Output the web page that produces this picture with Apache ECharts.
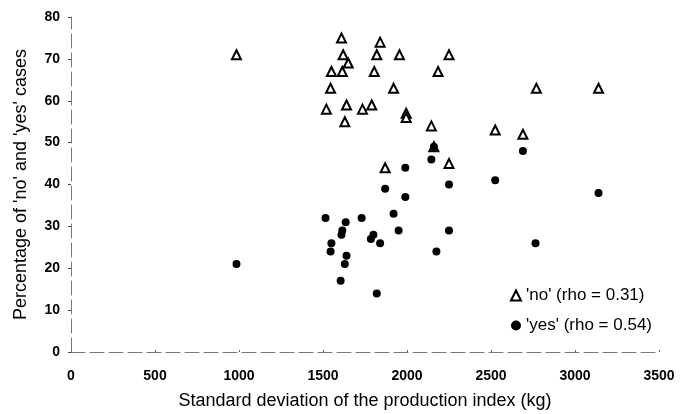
<!DOCTYPE html>
<html>
<head>
<meta charset="utf-8">
<script src="https://cdn.jsdelivr.net/npm/echarts@6/dist/echarts.min.js"></script>
<style>
  html, body { margin: 0; padding: 0; background: #fff; }
  #chart { width: 694px; height: 414px; }
</style>
</head>
<body>
<div id="chart"></div>
<script>
// 'no' cases: [sd of production index, percentage]
const noPoints = [
  [985, 71], [1520, 58], [1545, 63], [1550, 67], [1610, 75], [1615, 67],
  [1620, 71], [1630, 55], [1640, 59], [1650, 69], [1735, 58], [1790, 59],
  [1805, 67], [1820, 71], [1840, 74], [1870, 44], [1920, 63], [1955, 71],
  [1995, 57], [1995, 56], [2145, 54], [2160, 49], [2185, 67], [2250, 71],
  [2250, 45], [2525, 53], [2690, 52], [2770, 63], [3140, 63]
];
// 'yes' cases
const yesPoints = [
  [985, 21], [1515, 32], [1545, 24], [1550, 26], [1605, 17], [1610, 28],
  [1615, 29], [1630, 21], [1635, 31], [1640, 23], [1730, 32], [1785, 27],
  [1800, 28], [1820, 14], [1840, 26], [1870, 39], [1920, 33], [1950, 29],
  [1990, 44], [1990, 37], [2145, 46], [2160, 49], [2175, 24], [2250, 40],
  [2250, 29], [2525, 41], [2690, 48], [2765, 26], [3140, 38]
];
const seriesNames = ["'no' (rho = 0.31)", "'yes' (rho = 0.54)"];
const xTitle = 'Standard deviation of the production index (kg)';
const yTitle = "Percentage of 'no' and 'yes' cases";

const chart = echarts.init(document.getElementById('chart'));
const font = '"Liberation Sans", Arial, sans-serif';
const axisLine = { show: true, lineStyle: { color: '#777', width: 1, type: [14, 5] } };

chart.setOption({
  animation: false,
  backgroundColor: '#fff',
  grid: { left: 71, right: 35, top: 17, bottom: 62, outerBoundsMode: 'none', containLabel: false },
  legend: {
    orient: 'vertical',
    left: 510,
    top: 287,
    padding: 0,
    itemGap: 13,
    itemWidth: 10,
    itemHeight: 10,
    textStyle: { fontFamily: font, fontSize: 17, color: '#000' },
    data: seriesNames
  },
  xAxis: {
    type: 'value',
    min: 0, max: 3500, interval: 500,
    name: xTitle,
    nameLocation: 'middle',
    nameGap: 40,
    nameTextStyle: { fontFamily: font, fontSize: 18, color: '#000' },
    axisLine: axisLine,
    axisTick: { show: true, length: 2, inside: true, lineStyle: { color: '#666' } },
    axisLabel: { fontFamily: font, fontSize: 14, fontWeight: 'bold', color: '#000', margin: 17, formatter: v => String(v) },
    splitLine: { show: false }
  },
  yAxis: {
    type: 'value',
    min: 0, max: 80, interval: 10,
    name: yTitle,
    nameLocation: 'middle',
    nameGap: 41,
    nameTextStyle: { fontFamily: font, fontSize: 18, color: '#000' },
    axisLine: axisLine,
    axisTick: { show: true, length: 3, lineStyle: { color: '#444' } },
    axisLabel: { fontFamily: font, fontSize: 14, fontWeight: 'bold', color: '#000', margin: 11 },
    splitLine: { show: false }
  },
  series: [
    {
      name: seriesNames[0],
      type: 'scatter',
      data: noPoints,
      symbol: 'triangle',
      symbolSize: 9,
      itemStyle: { color: '#fff', borderColor: '#000', borderWidth: 2, opacity: 1 },
      z: 2
    },
    {
      name: seriesNames[1],
      type: 'scatter',
      data: yesPoints,
      symbol: 'circle',
      symbolSize: 8,
      itemStyle: { color: '#000', opacity: 1 },
      z: 3
    }
  ]
});
</script>
</body>
</html>
